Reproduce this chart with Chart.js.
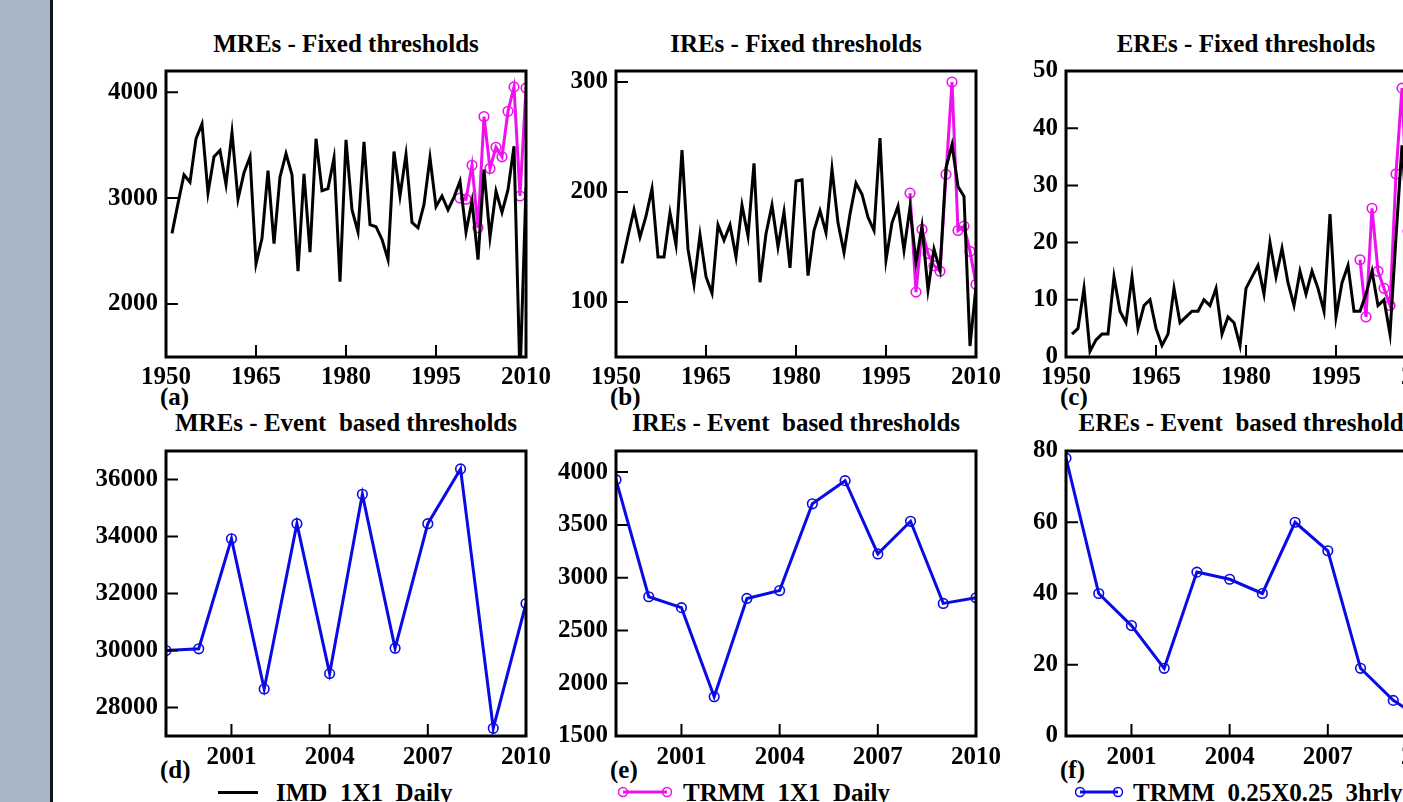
<!DOCTYPE html>
<html><head><meta charset="utf-8">
<script src="https://cdn.jsdelivr.net/npm/chart.js@4.4.1/dist/chart.umd.min.js"></script>
<style>
html,body{margin:0;padding:0;background:#fff;overflow:hidden;}
#stage{position:relative;width:1403px;height:802px;overflow:hidden;background:#fff;}
#band{position:absolute;left:0;top:0;width:50px;height:802px;background:#a8b7c7;}
#bandline{position:absolute;left:50px;top:0;width:3px;height:802px;background:#151515;}
canvas{position:absolute;}
.txt{position:absolute;font-family:'Liberation Serif','Times New Roman',serif;font-weight:bold;font-size:25px;line-height:25px;color:#000;white-space:pre;}
.title{transform:translateX(-50%);}
svg{position:absolute;}
</style></head><body>
<div id="stage">
  <div id="band"></div><div id="bandline"></div>

  <div class="txt title" style="left:346px;top:31px;">MREs - Fixed thresholds</div>
  <div class="txt title" style="left:796px;top:31px;">IREs - Fixed thresholds</div>
  <div class="txt title" style="left:1246px;top:31px;">EREs - Fixed thresholds</div>
  <div class="txt title" style="left:346px;top:410px;">MREs - Event  based thresholds</div>
  <div class="txt title" style="left:796px;top:410px;">IREs - Event  based thresholds</div>
  <div class="txt title" style="left:1246px;top:410px;">EREs - Event  based thresholds</div>

  <div class="txt" style="left:160px;top:384px;">(a)</div>
  <div class="txt" style="left:610px;top:384px;">(b)</div>
  <div class="txt" style="left:1060px;top:384px;">(c)</div>
  <div class="txt" style="left:160px;top:757px;">(d)</div>
  <div class="txt" style="left:610px;top:757px;">(e)</div>
  <div class="txt" style="left:1060px;top:757px;">(f)</div>

  <div style="position:absolute;left:218px;top:791px;width:40px;height:3px;background:#000;"></div>
  <div class="txt" style="left:276px;top:780px;">IMD_1X1_Daily</div>
  <svg style="left:618px;top:783px;" width="56" height="18"><line x1="5" y1="9" x2="49" y2="9" stroke="#ee11ee" stroke-width="3"/><circle cx="5" cy="9" r="4.5" fill="none" stroke="#ee11ee" stroke-width="1.5"/><circle cx="49" cy="9" r="4.5" fill="none" stroke="#ee11ee" stroke-width="1.5"/></svg>
  <div class="txt" style="left:683px;top:780px;">TRMM_1X1_Daily</div>
  <svg style="left:1075px;top:783px;" width="50" height="18"><line x1="5" y1="9" x2="43" y2="9" stroke="#0a0ae6" stroke-width="3"/><circle cx="5" cy="9" r="4.5" fill="none" stroke="#0a0ae6" stroke-width="1.5"/><circle cx="43" cy="9" r="4.5" fill="none" stroke="#0a0ae6" stroke-width="1.5"/></svg>
  <div class="txt" style="left:1133px;top:780px;">TRMM_0.25X0.25_3hrly</div>
</div>
<script>
// ---------- DATA ----------
const yearsLong = [1951,1952,1953,1954,1955,1956,1957,1958,1959,1960,
  1961,1962,1963,1964,1965,1966,1967,1968,1969,1970,
  1971,1972,1973,1974,1975,1976,1977,1978,1979,1980,
  1981,1982,1983,1984,1985,1986,1987,1988,1989,1990,
  1991,1992,1993,1994,1995,1996,1997,1998,1999,2000,
  2001,2002,2003,2004,2005,2006,2007,2008,2009,2010];
const yearsShort = [1999,2000,2001,2002,2003,2004,2005,2006,2007,2008,2009,2010];

// Fixed thresholds, IMD_1X1_Daily (1951-2010)
const mreImd = [2667,2950,3220,3150,3560,3700,3050,3390,3450,3130,
  3620,2990,3240,3390,2380,2620,3260,2570,3200,3420,
  3220,2310,3230,2490,3560,3070,3090,3380,2210,3550,
  2890,2680,3530,2750,2730,2610,2420,3440,3020,3410,
  2770,2720,2940,3380,2920,3020,2890,3010,3160,2680,
  2970,2420,3270,2630,3065,2865,3080,3490,1300,3100];
const ireImd = [135,160,184,159,178,203,141,141,181,152,
  238,148,116,161,123,108,170,156,170,141,
  188,160,226,118,162,188,150,182,131,210,
  211,124,165,183,163,221,172,145,180,208,
  198,177,165,249,138,172,187,147,186,136,
  169,111,148,129,222,243,205,196,60,114];
const ereImd = [4,5,12,1,3,4,4,14,8,6,
  14,5,9,10,5,2,4,12,6,7,
  8,8,10,9,12,4,7,6,2,12,
  14,16,11,20,14,19,13,9,15,11,
  15,12,8,25,7,13,16,8,8,11,
  15,9,10,4,21,37,22,18,6,14];

// Fixed thresholds, TRMM_1X1_Daily (1999-2010)
const mreTrmm = [3000,2990,3310,2720,3770,3280,3480,3390,3820,4050,3020,4040];
const ireTrmm = [199,109,166,144,133,128,216,300,165,169,146,116];
const ereTrmm = [17,7,26,15,12,9,32,47,22,20,16,18];

// Event based thresholds, TRMM_0.25X0.25_3hrly (1999-2010)
const mreEvent = [30000,30060,33920,28650,34450,29190,35480,30080,34450,36370,27270,31650];
const ireEvent = [3928,2819,2716,1872,2803,2878,3700,3919,3225,3534,2756,2809];
const ereEvent = [78,40,31,19,46,44,40,60,52,19,10,4];

// Tick labels
const topXTicks = [1950,1965,1980,1995,2010];
const bottomXTicks = [2001,2004,2007,2010];
const mreFixedTicks = [2000,3000,4000];
const ireFixedTicks = [100,200,300];
const ereFixedTicks = [0,10,20,30,40,50];
const mreEventTicks = [28000,30000,32000,34000,36000];
const ireEventTicks = [1500,2000,2500,3000,3500,4000];
const ereEventTicks = [0,20,40,60,80];

// ---------- RENDER ----------
const FONT = "'Liberation Serif','Times New Roman',serif";
const PINK = '#ee11ee', BLUE = '#0a0ae6';
Chart.defaults.font.family = FONT;
Chart.defaults.font.weight = 'bold';
Chart.defaults.font.size = 25;
Chart.defaults.color = '#000';

const framePlugin = {
  id: 'frame',
  afterDatasetsDraw(chart) {
    const {ctx, chartArea: a, scales: {x, y}} = chart;
    ctx.save();
    ctx.strokeStyle = '#000';
    ctx.lineWidth = 2;
    ctx.beginPath();
    x.ticks.forEach(t => { const px = x.getPixelForValue(t.value); ctx.moveTo(px, a.bottom); ctx.lineTo(px, a.bottom - 12); });
    y.ticks.forEach(t => { const py = y.getPixelForValue(t.value); ctx.moveTo(a.left, py); ctx.lineTo(a.left + 12, py); });
    ctx.stroke();
    ctx.lineWidth = 3;
    ctx.strokeRect(a.left, a.top, a.right - a.left, a.bottom - a.top);
    ctx.restore();
  }
};

const PADL = 110, PADT = 20, PADR = 40, PADB = 45;

function series(xs, ys, color, markers) {
  return {
    data: xs.map((v, i) => ({x: v, y: ys[i]})),
    borderColor: color, borderWidth: 3, tension: 0, fill: false,
    pointRadius: markers ? 4.8 : 0, pointBorderWidth: 1.6,
    pointBorderColor: color, pointBackgroundColor: 'rgba(0,0,0,0)'
  };
}

function panel(box, xMin, xMax, xTicks, xPad, yMin, yMax, yTicks, datasets) {
  const c = document.createElement('canvas');
  const w = PADL + box.w + PADR, h = PADT + box.h + PADB;
  c.width = w; c.height = h;
  c.style.left = (box.left - PADL) + 'px';
  c.style.top = (box.top - PADT) + 'px';
  c.style.width = w + 'px'; c.style.height = h + 'px';
  document.getElementById('stage').appendChild(c);
  new Chart(c, {
    type: 'line',
    data: {datasets},
    options: {
      responsive: false, animation: false, devicePixelRatio: 1, events: [],
      layout: {autoPadding: false, padding: {top: PADT, right: PADR, left: 0, bottom: 0}},
      plugins: {legend: {display: false}, tooltip: {enabled: false}},
      scales: {
        x: {
          type: 'linear', min: xMin, max: xMax,
          afterBuildTicks: s => { s.ticks = xTicks.map(v => ({value: v})); },
          afterFit: s => { s.height = PADB; },
          grid: {display: false, drawTicks: false}, border: {display: false},
          ticks: {maxRotation: 0, autoSkip: false, padding: xPad, callback: v => String(v)}
        },
        y: {
          type: 'linear', min: yMin, max: yMax,
          afterBuildTicks: s => { s.ticks = yTicks.map(v => ({value: v})); },
          afterFit: s => { s.width = PADL; },
          grid: {display: false, drawTicks: false}, border: {display: false},
          ticks: {padding: 8, callback: v => String(v)}
        }
      }
    },
    plugins: [framePlugin]
  });
}

const TOP = 68, TOPH = 289, BOT = 448, BOTH = 288, W = 360;
const COLS = [166, 616, 1066];

panel({left: COLS[0], top: TOP, w: W, h: TOPH}, 1950, 2010, topXTicks, 6, 1500, 4200, mreFixedTicks,
  [series(yearsLong, mreImd, '#000', false), series(yearsShort, mreTrmm, PINK, true)]);
panel({left: COLS[1], top: TOP, w: W, h: TOPH}, 1950, 2010, topXTicks, 6, 50, 310, ireFixedTicks,
  [series(yearsLong, ireImd, '#000', false), series(yearsShort, ireTrmm, PINK, true)]);
panel({left: COLS[2], top: TOP, w: W, h: TOPH}, 1950, 2010, topXTicks, 6, 0, 50, ereFixedTicks,
  [series(yearsLong, ereImd, '#000', false), series(yearsShort, ereTrmm, PINK, true)]);

panel({left: COLS[0], top: BOT, w: W, h: BOTH}, 1999, 2010, bottomXTicks, 7, 27000, 37000, mreEventTicks,
  [series(yearsShort, mreEvent, BLUE, true)]);
panel({left: COLS[1], top: BOT, w: W, h: BOTH}, 1999, 2010, bottomXTicks, 7, 1500, 4200, ireEventTicks,
  [series(yearsShort, ireEvent, BLUE, true)]);
panel({left: COLS[2], top: BOT, w: W, h: BOTH}, 1999, 2010, bottomXTicks, 7, 0, 80, ereEventTicks,
  [series(yearsShort, ereEvent, BLUE, true)]);
</script>
</body></html>
